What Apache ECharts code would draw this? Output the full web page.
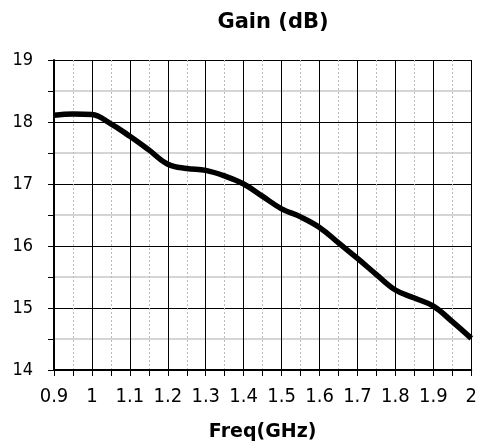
<!DOCTYPE html>
<html><head><meta charset="utf-8">
<script src="https://cdn.jsdelivr.net/npm/echarts@6/dist/echarts.min.js"></script>
<style>html,body{margin:0;padding:0;background:#fff}#c{width:480px;height:448px}</style>
</head><body><div id="c"></div>
<script>
const freq = [0.9, 0.95, 1.0, 1.05, 1.1, 1.15, 1.2, 1.25, 1.3, 1.35, 1.4, 1.45, 1.5, 1.55, 1.6, 1.65, 1.7, 1.75, 1.8, 1.85, 1.9, 1.95, 2.0];
const gain = [18.11, 18.13, 18.12, 17.97, 17.77, 17.55, 17.32, 17.25, 17.22, 17.13, 17.0, 16.8, 16.6, 16.47, 16.3, 16.05, 15.8, 15.54, 15.29, 15.16, 15.03, 14.78, 14.51];
const chartTitle = 'Gain (dB)';
const xName = 'Freq(GHz)';
const font = '"DejaVu Sans Condensed", "DejaVu Sans"';
const boldFont = '"DejaVu Sans"';
const chart = echarts.init(document.getElementById('c'), null, {renderer: 'canvas'});
chart.setOption({
  animation: false,
  title: {text: chartTitle, left: 268, top: 7, textAlign: 'center',
    textStyle: {fontFamily: boldFont, fontSize: 21, fontWeight: 'bold', color: '#000'}},
  grid: {left: 54, right: 7, top: 60, bottom: 78},
  xAxis: {
    type: 'value', min: 0.9, max: 2, interval: 0.1,
    name: xName, nameLocation: 'middle', nameGap: 53,
    nameTextStyle: {fontFamily: boldFont, fontSize: 19, fontWeight: 'bold', color: '#000', verticalAlign: 'top'},
    axisLine: {onZero: false, lineStyle: {color: '#000', width: 2}},
    axisTick: {show: true, length: 6, lineStyle: {color: '#000'}},
    minorTick: {show: true, splitNumber: 2, length: 6, lineStyle: {color: '#000'}},
    axisLabel: {fontFamily: font, fontSize: 20, color: '#000', margin: 17,
      formatter: v => String(Math.round(v * 10) / 10)},
    splitLine: {show: true, lineStyle: {color: '#000', width: 1}},
    minorSplitLine: {show: true, lineStyle: {color: '#bbb', width: 1, type: [2, 2]}}
  },
  yAxis: {
    type: 'value', min: 14, max: 19, interval: 1,
    axisLine: {show: true, lineStyle: {color: '#000', width: 2}},
    axisTick: {show: true, length: 6, lineStyle: {color: '#000'}},
    minorTick: {show: true, splitNumber: 2, length: 6, lineStyle: {color: '#000'}},
    axisLabel: {fontFamily: font, fontSize: 18, color: '#000', margin: 21},
    splitLine: {show: true, lineStyle: {color: '#000', width: 1}},
    minorSplitLine: {show: true, lineStyle: {color: '#c8c8c8', width: 1.5}}
  },
  series: [{
    type: 'line', data: freq.map((f, i) => [f, gain[i]]),
    smooth: 0.4, showSymbol: false,
    lineStyle: {color: '#000', width: 5.5}
  }]
});
</script></body></html>
